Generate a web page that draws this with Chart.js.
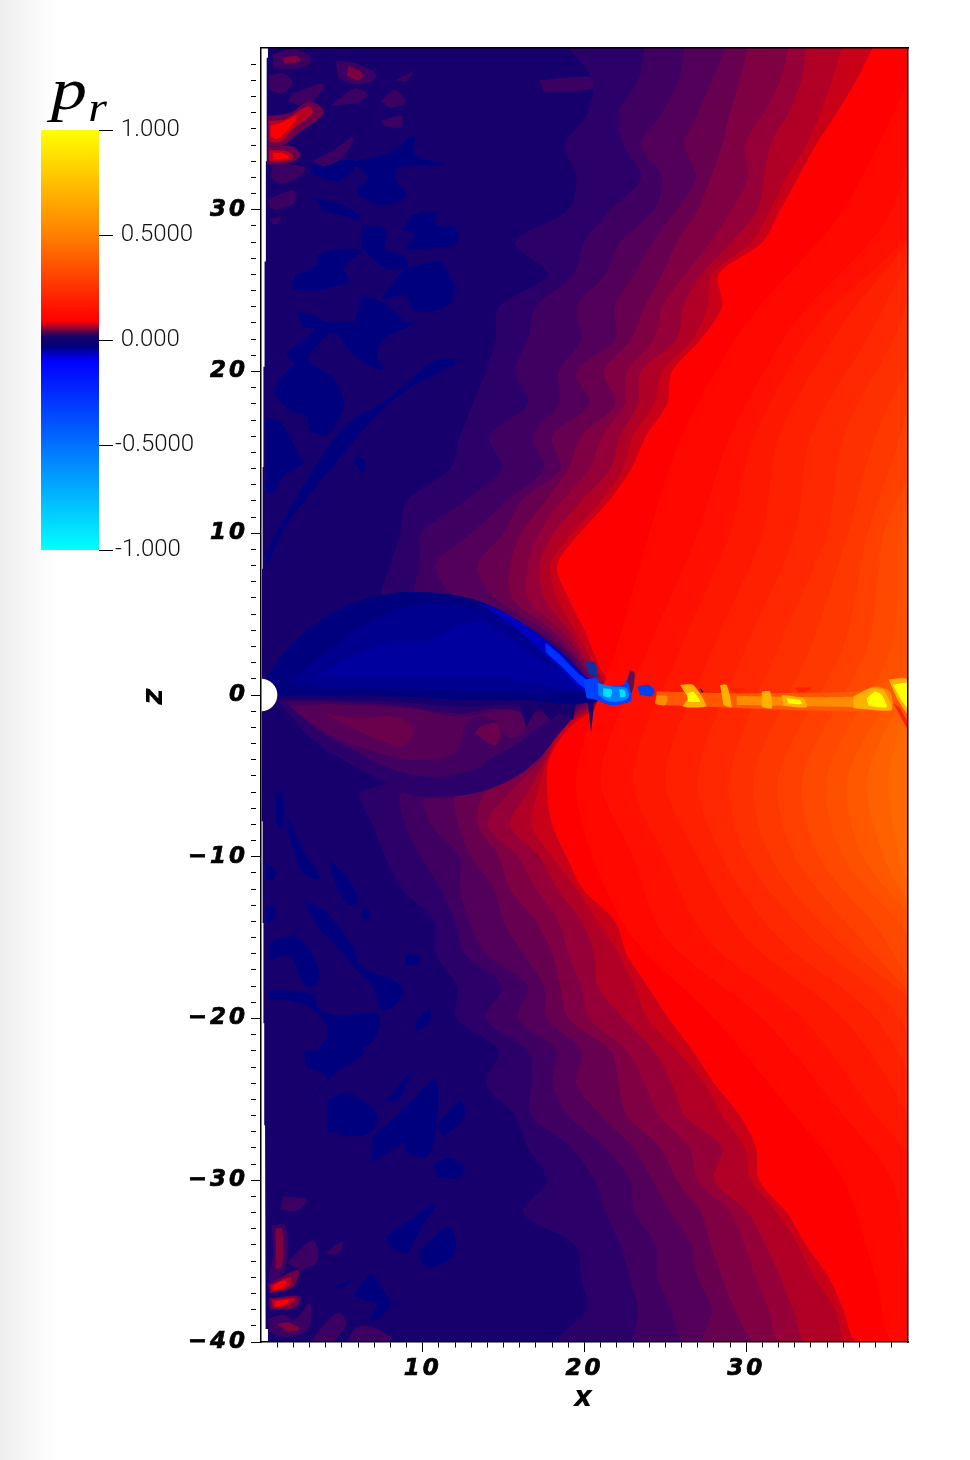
<!DOCTYPE html>
<html>
<head>
<meta charset="utf-8">
<title>p_r</title>
<script src="https://cdn.jsdelivr.net/npm/chart.js@4/dist/chart.umd.min.js"></script>
<style>
  html, body { margin: 0; padding: 0; }
  body { width: 970px; height: 1460px; position: relative; overflow: hidden;
         background: linear-gradient(to right, #eeeeee 0, #f6f6f6 25px, #ffffff 60px); }
  canvas { position: absolute; left: 0; top: 0; }
  #colorBar { top: 100px; }
  #barTitle { position: absolute; left: 51px; top: 59px; color: #000; line-height: 1;
              font-family: "Liberation Serif", serif; font-style: italic; font-size: 60px;
              transform: scaleX(1.2); transform-origin: left top; }
  #barTitle span { font-size: 40px; position: relative; top: 12px; left: 1px; }
</style>
</head>
<body>
<canvas id="mainChart" width="970" height="1460"></canvas>
<canvas id="colorBar" width="220" height="480"></canvas>
<div id="barTitle">p<span>r</span></div>
<script>
// z rows shared by the contour lines, x for each row
const zRows = [40,38,36,34,32,30,28,26,24,22,20,18,16,14,12,10,8,6,4,2,0,-2,-4,-6,-8,-10,-12,-14,-16,-18,-20,-22,-24,-26,-28,-30,-32,-34,-36,-38,-40];
const contour1 = [19,20.5,20.2,18.8,19.5,19,15.7,17.7,14.7,14.5,13.9,13.1,12.3,11.7,9,8.6,8,7.6,15.5,19,20,16,15,6.2,6.9,7.7,8.7,10.7,10.8,12.1,12.1,14.7,13.9,15.7,16.5,17.7,16.2,19.4,19.8,20.1,18.5];
const contour2 = [23.7,23.3,22.1,22.4,23.5,21.6,20,19.3,17,16.5,15.7,16.5,14.1,14.9,12.6,9.9,9.8,9.6,16.5,19.2,20.2,16.5,15.5,8.7,8.9,9.9,11.1,12,12.6,14.9,13.9,16.5,16.7,16.7,19.2,20.6,21.3,22.2,22.8,23.3,23.3];
const contour3 = [26.2,25.8,24.8,23.5,24.8,24.3,22.2,21.3,19.5,19.8,18.4,18.4,16.8,17.5,15.2,13,10.8,12.1,17,19.4,20.4,17,16,10.2,10.5,12.3,12.3,12.9,13.9,16.5,15.9,18.3,18,19,21.3,22.8,23.1,24.4,24.5,25.4,26.2];
const contour4 = [28.7,27.9,27,26.2,26.9,25.7,24.2,23.1,21.9,21.9,19.5,20.3,18,18.5,16.1,15,13.4,14.5,17.5,19.6,20.6,17.5,16.5,12.1,12.2,13,14.4,15,16.2,17.5,17.7,19.8,19.5,21,23,24.2,25.3,26.6,27,27.9,27.5];
const contour5 = [30.1,29.6,29,28.5,27.8,27,25.7,24.8,23.7,22.9,21.2,21.9,19.8,19,17.6,16.1,15.4,15.5,18,19.8,20.8,18,17,13.9,13.4,14.7,15.4,17,18,18.5,19,21.6,22.1,22.6,24.7,25.7,27.2,27.8,28.5,29.3,30.6];
const contour6 = [32.6,32.1,31.1,29.9,30.1,29.1,27.8,26.2,24.8,24.3,22.6,22.5,21.1,20.3,18.6,17.2,16.5,16.5,18.5,20,21,18.3,17.3,15.4,14,15.9,17,18.4,19,19.8,20.3,22.6,23.7,24.6,26.5,27,29,29.9,30.6,31.4,32.1];
const contour7 = [33.7,33.4,32.6,31.5,31.1,30.7,29.1,27.2,26.1,25.7,23.5,23.3,22.2,21.6,19.8,18.1,17.2,17.5,19,20.2,21.2,18.6,17.6,16.5,15.4,17.2,18.3,19.8,20.6,20.8,22.4,24.3,25.4,26.2,28.5,28,30.1,31.2,32.1,32.9,33.7];
const contour8 = [35.9,35.3,34.6,33.7,32.5,31.5,30.3,27.9,27.6,26.7,24.8,24.3,23,22.4,21,19.2,17.9,18.3,19.4,20.5,21.4,18.8,17.7,17.1,16.7,18,19.5,20.8,22.1,23.1,23.9,25.7,27.4,28.5,29.9,30.3,31.9,33.2,34.2,35.5,36.2];
const contour9 = [37.8,36.8,35.6,34.3,33.2,32.1,31,28.3,28.5,27.2,25.4,25.1,23.8,22.9,21.5,19.7,18.3,19,20,20.8,21.6,19.1,17.8,17.7,18,18.9,19.9,21.9,22.6,23.9,25.2,26.7,28,29.6,30.6,30.8,32.5,33.7,35.1,36,36.8];
const contourColors = ['#2b0068','#3f0062','#53005a','#680050','#7f0043','#960038','#b00026','#c80018','#ff0000'];

// red to orange ramp on the right side
const orangeRows = [40,30,23,16,10,3,-5,-10,-15,-20,-26,-30,-36,-40];
const orange1 = [41,36,30,26,24,22,19.5,20.5,23,28,33,36,38,39];
const orange2 = [41,39,33,29,27,24,21,23,25,31,36,39,40,41];
const orange3 = [41,41,34.5,30.5,29,26,23,25,27.5,33.5,38,41,41,41];
const orange4 = [41,41,36,32,31,28,25,27,30,36,40,41,41,41];
const orange5 = [41,41,38,34,33,30,27,28.5,32,38,41,41,41,41];
const orange6 = [41,41,39.5,36,35,32,29,30,34,39.5,41,41,41,41];
const orange7 = [41,41,41,38,36.3,34,30.5,31.5,35.5,41,41,41,41,41];
const orange8 = [41,41,41,39.5,37.5,36,32,33,37,41,41,41,41,41];
const orange9 = [41,41,41,41,38.5,37.5,33.5,34.5,38.5,41,41,41,41,41];
const orange10 = [41,41,41,41,39.5,39,35,36,40,41,41,41,41,41];
const orange11 = [41,41,41,41,40.5,40.5,36.3,37.2,41,41,41,41,41,41];
const orange12 = [41,41,41,41,41,41,37.5,38.5,41,41,41,41,41,41];
const orange13 = [41,41,41,41,41,41,38.8,39.5,41,41,41,41,41,41];
const orange14 = [41,41,41,41,41,41,40,40.5,41,41,41,41,41,41];
const orangeColors = ['#ff0800','#ff1000','#ff1800','#ff2000','#ff2800','#ff3000','#ff3800','#ff4000','#ff4800','#ff5000','#ff5800','#ff6000','#ff6800','#ff7000'];

// left edge of the data, it steps in towards the axis
const edgeZ = [40,39.4,39.4,33,33,26.8,26.8,20.3,20.3,14.1,14.1,7.8,7.8,1.5,1.5,-1.5,-1.5,-7.8,-7.8,-14.1,-14.1,-20.3,-20.3,-26.6,-26.6,-32.8,-32.8,-39.2,-39.2,-40];
const edgeX = [0.43,0.43,0.35,0.35,0.3,0.3,0.22,0.22,0.15,0.15,0.1,0.1,0.06,0.06,0,0,0.06,0.06,0.1,0.1,0.15,0.15,0.2,0.2,0.25,0.25,0.3,0.3,0.43,0.43];

// x,z pairs
const navyPatches = [
  [5.9,33,8,33.6,9.5,34.6,9.5,33.4,11.3,32.8,8.5,32.6,8.4,31.8,9,30.9,7.5,30.3,5.9,31.1,6.6,32,5.5,33],
  [9.3,29.7,10.8,29.9,10.8,29.1,12,28.9,12.1,27.9,10.3,27.6,9,27.6,9.5,28.5,8.7,28.7],
  [2.1,26,3.5,26.6,3.5,27.3,6.2,27.5,5.1,26.4,5.4,25.6,3.3,25,1.9,25.1],
  [6.2,29.1,7.7,28.8,7.7,27.6,8.9,27.1,9,26.4,7.7,26.4,6.2,27.6],
  [9,26.4,11.1,26.8,11.6,26,12,25.1,11.6,24.1,9.6,23.7,8.9,24.7,7.5,24.5,8.2,25.6],
  [6.2,24.7,7.5,24.3,8.5,23.5,8.9,22.7,5.7,22.7],
  [2.2,23.7,3.3,23.5,4.1,22.7,2.6,22.7],
  [3.1,32.8,5.9,33,4.9,31.8,3.1,32.2],
  [3.3,30.7,5.1,30.3,6.2,29.4,3.9,29.9],
  [1.5,21.1,3.3,22.6,2.8,23,9.5,23,7.7,22.1,7.2,21.1,7.5,20.1,6.4,20.5,5.9,20.9,5.4,21.3,4.5,22.4,3.3,21.4,3,20.6,4.4,19.7,5.1,18.2,4.8,17,4.1,16.1,3,16.4,2.8,17.2,1.8,17.6,0.8,18.9,2.1,20.5],
  [0.3,17.2,1.3,16.8,2.3,14.9,2.6,14.3,1.3,13.5,0.8,12.5,0.3,12.5],
  [5.8,14.8,6.4,14.5,6.3,13.7,5.8,14.3],
  [0.26,8.75,2.57,12.87,5.14,16.58,7.7,18.2,10.8,20.7,12.1,20.6,9,18.85,6.9,17,4.1,13.7,1.5,10.4,0.4,7.9],
  [0.9,-6,1.3,-6.1,1.3,-8.35,0.9,-7.9],
  [1.5,-7.1,2.8,-10,3.3,-10.6,3.6,-11.4,2.6,-11,1.8,-9],
  [4.2,-10.2,4.9,-10.8,5.9,-12.3,5.9,-12.9,5.3,-12.9,4.4,-11.2],
  [6.2,-13.2,6.7,-13.3,6.7,-13.9,6.2,-13.8],
  [9,-16,9.8,-16.2,9.6,-16.7,8.9,-16.7],
  [0.3,-10.4,0.9,-10.8,0.8,-11.4,0.3,-11.4],
  [0.3,-13,0.8,-13,0.8,-13.9,0.3,-14.1],
  [2.6,-12.7,3.9,-13.3,5.7,-15.6,6.2,-16.8,8.5,-17.8,8.7,-18.7,7.5,-19.5,6.9,-18,5.9,-17,4.9,-15.8,3.6,-14.5],
  [0.5,-15.2,2.3,-15,3.6,-17,3.3,-18,2.6,-17.8,1.8,-16.2,0.5,-16.4],
  [0.5,-18.2,3.3,-18.5,3.5,-19.3,4.6,-19.8,7.2,-19.7,7.3,-20.7,6.4,-21.8,3.3,-22.4,4.1,-20.9,3.3,-19.5,1.8,-18.9,0.5,-18.9],
  [9.5,-20.3,10.4,-19.4,10.4,-20.3,9.6,-20.8],
  [2.6,-22,6.4,-22,4.4,-23.6,2.3,-25.8,4.1,-23.7,2.8,-23],
  [4.1,-25,5.4,-24.6,7.2,-25.9,6.9,-26.9,5.9,-27.3,4.1,-27],
  [9,-23.5,9.3,-23.3,8.5,-25,7.7,-25.1],
  [8.9,-25.5,10.8,-23.8,10.8,-26.9,10.3,-28.5,9,-28.3,8.9,-27.7,6.9,-28.8,6.9,-27.3],
  [10.8,-26.7,12.3,-25.1,12.6,-26.1,11.3,-27.3],
  [10.7,-29,11.7,-28.6,12.6,-29.2,12.2,-29.9,10.8,-29.8],
  [7.7,-33.5,10.8,-31.4,9.8,-33.1,9,-34.5,8,-34.1],
  [9.8,-34.3,11.6,-32.9,12,-34.5,10.5,-35.4,9.8,-35],
  [5.7,-37.2,6.8,-35.8,7.3,-36.4,8,-37.8,6.8,-38.7,7.2,-37.6],
  [4.1,-36.8,5.7,-36.1,5.1,-36.6]
];
const navyColor = '#00007f';

// dim purple patches near the axis
const purplePatches = [
  [0.7,39.6,2,39.9,3,39.5,3,39,1.9,38.7,0.8,38.8],
  [4.6,39.2,5.7,39.1,7.1,38.4,6.8,37.9,5.5,37.8,4.8,38.2],
  [0.5,38.3,1.5,38.4,1.9,37.8,1.3,37.2,0.5,37.4],
  [1.9,37.2,3.9,37.8,3.3,36.8,2.4,36.5,1.7,36.7],
  [4.3,36.4,5.8,37.5,6.6,37.1,6,36.6],
  [7.4,36.7,8.3,37.4,8.9,36.6,8,36.3],
  [8.3,38,9.4,38.5,9,37.9],
  [3.2,33,4.5,33.7,5.7,34.5,5.1,33.3,4,32.7,3.3,32.9],
  [0.7,32.9,2.7,32.6,2.3,32,1.2,31.6,0.6,32],
  [0.4,30.6,2,31.2,2.1,30.5,1,30,0.5,30.2],
  [0.6,29.4,1.2,29.6,1.1,29.2,0.7,29.1],
  [7.4,35.5,8.7,35.8,8.6,35.1,7.6,35.2],
  [17.2,38,20.3,38.2,20.5,37.5,17.5,37.3],
  [0.66,-32.8,1.5,-32.8,1.5,-35.55,0.55,-36.3,0.76,-34.5],
  [0.45,-38.6,1.4,-38.3,2.1,-38.6,3,-37.6,3.1,-38.4,2.8,-39.3,1.6,-39.7,0.55,-39.4],
  [3,-40,4.7,-38.2,5.3,-38.8,4.5,-40],
  [5.3,-40,5.9,-39.1,6.95,-39.1,8,-39.7,8,-40],
  [1.6,-35.1,3.2,-33.7,3.5,-35,2.4,-35.6],
  [4,-34.5,5,-33.8,4.9,-34.4,4.3,-34.6],
  [1.4,-31,2.8,-31.2,2.2,-31.9,1.2,-31.8]
];
const purpleColor = '#3c0062';
const wineShapes = [
  [1.3,39.4,2.2,39.5,2.4,39.2,1.5,39],
  [5.4,38.9,6.3,38.4,6,38,5.3,38.3],
  [0.9,-33,1.3,-33,1.3,-35.3,0.9,-35.5],
  [1,-38.9,1.7,-38.8,2.4,-39.2,1.7,-39.4]
];
const wineColor = '#80003e';

// hot spots: outer, middle and inner rings
const spotOuter = [
  [0.4,35.8,1.8,36,3,36.7,3.9,36,2.4,34.8,1.4,34,0.4,33.9],
  [0.4,33.9,2,33.9,2.4,33.3,1.8,32.9,0.4,32.8],
  [0.45,-36.4,2.3,-35.55,2,-36.6,0.55,-37],
  [0.5,-37.3,2.4,-37.2,2.1,-37.9,0.55,-38]
];
const spotMiddle = [
  [0.5,35.5,1.5,35.6,2.9,36.4,3.2,36,2,35,1.2,34.2,0.5,34.2],
  [0.5,33.7,1.7,33.6,2,33.2,1.2,33,0.5,33],
  [0.55,-36.5,1.8,-36,1.7,-36.6,0.66,-36.9],
  [0.66,-37.4,2.1,-37.3,1.8,-37.7,0.76,-37.9]
];
const spotInner = [
  [0.6,35.2,1.3,35.4,2.2,35.8,1.7,35,1,34.4,0.6,34.5],
  [0.7,33.5,1.4,33.5,1.7,33.2,0.8,33.1],
  [0.76,-36.5,1.5,-36.2,1.5,-36.5,0.8,-36.8],
  [0.87,-37.5,1.7,-37.4,1.6,-37.65,0.87,-37.8]
];

// lobe under the equator
const lowerLobe1 = [1,-0.31,3,-2.58,5.1,-4.02,7.8,-5.47,9.8,-6.29,13.1,-6.09,15.4,-5.26,17.1,-4.02,18.1,-2.79,19.3,-1.14,18.5,-0.52,16.4,-0.52,12.3,-0.73,8.2,-0.42,4.1,-0.31];
const lowerLobe2 = [1.6,-0.42,3.2,-1.96,5.7,-3.4,8.2,-4.64,10.7,-5.06,13.1,-4.64,14.4,-3.82,15.6,-3.2,16.4,-2.58,17.5,-1.76,18.5,-1.14,16.4,-1.03,14.4,-0.83,12.3,-1.14,8.2,-0.62,4.1,-0.42];
const lowerLobe3 = [1.8,-0.73,4.1,-2.37,6.7,-3.41,9.6,-4.02,11.9,-3.61,12.7,-1.76,13.3,-1.34,14.4,-1.55,15.2,-2.58,15.8,-2.58,16.4,-1.76,15.6,-0.94,12.3,-1.34,9.2,-0.83,4.1,-0.56];
const lowerLobe4a = [3.9,-1.14,6.3,-2.37,8.6,-3.14,9.4,-2.48,9.2,-1.76,8.2,-1.34,6.1,-1.45];
const lowerLobe4b = [13.2,-2.37,14.4,-3.1,14.8,-2.58,14.6,-1.76,13.5,-1.96];
const lowerSpikes = [15.8,-0.1,16.4,-1.96,17.1,-0.73,17.9,-1.55,18.5,-1.14,19.3,-1.55,19.5,-0.31,20.2,-0.5,20.4,-2.3,20.6,-0.5,21,-0.2];

// lobe above the equator
const upperLobe1 = [0.35,1.13,1.38,2.57,2.83,4.02,4.48,5.15,6.54,5.98,8.8,6.35,11.3,6.29,13.34,5.87,15,5.15,16.44,4.22,17.9,3.19,19.1,2.16,20.04,1.13,20.9,0.3,21,-0.2,19.3,-0.6,16.4,-0.3,12.3,-0.3,8.2,-0.1,4.1,-0.05,1.1,-0.05];
const upperLobe2 = [1.69,0.72,3.65,2.37,5.92,4.02,8.19,5.25,10.66,5.67,13.14,5.36,14.8,4.74,16.43,3.6,18.08,2.26,19.53,0.92,20.56,0.1,14.37,0.2,8.19,0.41,4.06,0.41];
const upperLobe3 = [3.45,1.13,5.51,2.37,7.78,3.19,10.66,3.4,12.31,4.43,13.96,4.43,15.61,3.4,17.05,2.37,18.5,1.54,19.73,0.72,19.53,0.3,14.37,1.13,12.31,1.13,8.19,1.13];
const lobeRim = [13.3,5.75,14.6,5.3,16,4.55,17.05,3.81,18.5,2.68,19.73,1.44,20.97,0.51,20.97,-0.15,19.73,0.41,18.5,1.65,17.05,2.99,16,3.95,14.6,4.95];
const lobeRimBright = [17.6,3.25,18.5,2.48,19.73,1.23,20.97,0.41,20.97,-0.1,19.73,0.62,18.5,1.85,17.6,2.65];

// blue knots where the lobe meets the equator
const tipNub = [20.03,2.06,20.65,1.96,20.75,1.13,20.24,1.34];
const tipSpur = [22.8,1.55,23.1,1.34,22.9,0.1,22.6,0.72];
const tipBlue = [19.93,0.93,20.75,1.03,21.06,0.62,22.4,0.62,22.6,0.93,22.9,0,22.8,-0.41,21.58,-0.62,20.75,-0.31,20.13,-0.2];
const tipLight = [20.85,0.72,21.78,0.52,22.6,0.41,22.7,-0.2,21.58,-0.41,20.85,0];
const tipCyan1 = [21.16,0.41,21.68,0.31,21.58,-0.14,21.16,-0.06];
const tipCyan2 = [22.15,0.35,22.5,0.27,22.5,-0.1,22.2,-0.14];
const knotBlue = [23.27,0.52,23.95,0.62,24.32,0.27,24.15,-0.06,23.43,0];
const knotSmall = [27.15,0.41,27.35,0.2,27.25,0.1];

// hot streak along the equator
const streakOuter = [24.46,0.21,29.41,0.1,36.63,0.21,38.69,0.82,39.93,1.13,40,-2,39.31,-0.72,36.63,-1.03,28.38,-0.76,24.46,-0.62];
const streakInner = [29.41,-0.06,36.63,-0.1,37.9,0.52,38.9,0.21,39,-0.93,36.63,-0.76,29.41,-0.62];
const streakStart = [24.46,0,25.1,-0.1,25,-0.62,24.35,-0.52];
const streakDark = [29.1,0.4,30,0.4,29.6,0.15,29.2,0.15];
const streakDark2 = [33,0.45,34,0.45,33.6,0.2,33.2,0.2];
const streakTail = [39.1,-0.5,39.5,-0.8,40,-1.7,40,-2.2];
const amberBlobs = [
  [25.91,0.62,26.73,0.62,27.52,-0.68,26.11,-0.72,26.42,-0.2],
  [28.38,0.62,28.79,0.62,29.1,-0.76,28.59,-0.62],
  [30.96,0.21,31.47,0.21,31.58,-0.82,30.96,-0.72],
  [32.2,0,33.54,-0.2,33.74,-0.76,32.3,-0.68],
  [36.63,-0.1,37.66,0.41,38.49,0.31,39,-0.93,36.63,-0.82],
  [38.8,0.97,39.97,0.97,39.97,-1.13,39.31,-0.2]
];
const yellowBlobs = [
  [26.32,0.1,26.73,0.2,27.15,-0.41,26.42,-0.41],
  [32.5,-0.2,33.33,-0.31,33.43,-0.56,32.6,-0.52],
  [37.45,-0.2,37.97,0.21,38.38,0,38.69,-0.76,37.56,-0.68],
  [39.06,0.62,39.97,0.72,39.97,-0.76,39.51,-0.2]
];

const xLabelled = [10, 20, 30];
const zLabelled = [-40, -30, -20, -10, 0, 10, 20, 30];

// colour bar
const barStops = [1, 0.5, 0.09, 0.02, -0.03, -0.1, -1];
const barColors = ['#ffff00', '#ff8000', '#ff0000', '#1a0068', '#00007f', '#0000ff', '#00ffff'];
const barTicks = [1, 0.5, 0, -0.5, -1];
const barTickLabels = ['1.000', '0.5000', '0.000', '-0.5000', '-1.000'];

function shape(flat, color, tension) {
  var points = [];
  for (var i = 0; i < flat.length; i += 2) {
    points.push({x: flat[i], y: flat[i + 1]});
  }
  return {data: points, backgroundColor: color, fill: 'shape', showLine: true,
          borderWidth: 0, pointRadius: 0, pointHoverRadius: 0,
          tension: tension === undefined ? 0.35 : tension};
}

function bandShape(rows, xs, color) {
  var flat = [];
  for (var i = 0; i < rows.length; i++) {
    flat.push(xs[i], rows[i]);
  }
  flat.push(42, rows[rows.length - 1] - 3, 42, rows[0] + 3);
  return shape(flat, color, 0.3);
}

var layers = [];

// base
var baseFlat = [];
for (var i = 0; i < edgeZ.length; i++) baseFlat.push(edgeX[i], edgeZ[i]);
baseFlat.push(41, -40, 41, 40);
layers.push(shape(baseFlat, '#18006c', 0));

navyPatches.forEach(function (p) { layers.push(shape(p, navyColor)); });
purplePatches.forEach(function (p) { layers.push(shape(p, purpleColor)); });
wineShapes.forEach(function (p) { layers.push(shape(p, wineColor)); });

[contour1, contour2, contour3, contour4, contour5, contour6, contour7, contour8, contour9].forEach(function (c, i) {
  layers.push(bandShape(zRows, c, contourColors[i]));
});

[orange1, orange2, orange3, orange4, orange5, orange6, orange7, orange8, orange9, orange10, orange11, orange12, orange13, orange14].forEach(function (c, i) {
  layers.push(bandShape(orangeRows, c, orangeColors[i]));
});

spotOuter.forEach(function (p) { layers.push(shape(p, '#6a004c')); });
spotMiddle.forEach(function (p) { layers.push(shape(p, '#b80020')); });
spotInner.forEach(function (p) { layers.push(shape(p, '#ff0000')); });

layers.push(shape(lowerLobe1, '#2b0068'));
layers.push(shape(lowerLobe2, '#420060'));
layers.push(shape(lowerLobe3, '#570058'));
layers.push(shape(lowerLobe4a, '#6b004c'));
layers.push(shape(lowerLobe4b, '#6b004c'));
layers.push(shape(lowerSpikes, '#18006c', 0));

layers.push(shape(upperLobe1, '#00007f', 0.2));
layers.push(shape(upperLobe2, '#00008e', 0.2));
layers.push(shape(upperLobe3, '#00009e', 0.2));
layers.push(shape(lobeRim, '#0000c0', 0.2));
layers.push(shape(lobeRimBright, '#0030ff', 0.2));

layers.push(shape(tipNub, '#1030a0'));
layers.push(shape(tipSpur, '#60104f'));
layers.push(shape(tipBlue, '#0040ff'));
layers.push(shape(tipLight, '#0080ff'));
layers.push(shape(tipCyan1, '#00e0ff'));
layers.push(shape(tipCyan2, '#00e0ff'));
layers.push(shape(knotBlue, '#0040f0'));
layers.push(shape(knotSmall, '#00007f'));

layers.push(shape(streakOuter, '#ff5800', 0.2));
layers.push(shape(streakInner, '#ff8c00', 0.2));
layers.push(shape(streakStart, '#ff8c00'));
layers.push(shape(streakDark, '#ff2000'));
layers.push(shape(streakDark2, '#ff2000'));
layers.push(shape(streakTail, '#ff2000', 0));
amberBlobs.forEach(function (p) { layers.push(shape(p, '#ffb000', 0.2)); });
yellowBlobs.forEach(function (p) { layers.push(shape(p, '#ffff00', 0.2)); });

// the hole around the origin
layers.push({data: [{x: 0, y: 0}], backgroundColor: '#ffffff', borderWidth: 0,
             pointRadius: 16.3, pointHoverRadius: 16.3, showLine: false});

// first dataset is drawn on top, so turn the painter's order round
layers.reverse();

var axisFont = {family: '"DejaVu Sans"', size: 23, weight: 'bold', style: 'italic'};
var titleFont = {family: '"DejaVu Sans"', size: 28, weight: 'bold', style: 'italic'};

// the axis numbers in the picture sit wider apart than the font does
var wideLabels = {
    id: 'wideLabels',
    beforeDraw: function (c) { c.ctx.letterSpacing = '3px'; }
};

var ctx = document.getElementById('mainChart').getContext('2d');
var chart = new Chart(ctx, {
    type: 'scatter',
    data: { datasets: layers },
    plugins: [wideLabels],
    options: {
        responsive: false,
        animation: false,
        events: [],
        layout: { padding: { left: 0, top: 48, right: 62, bottom: 0 } },
        plugins: { legend: { display: false }, tooltip: { enabled: false } },
        scales: {
            x: {
                type: 'linear', position: 'bottom', min: 0, max: 40,
                afterFit: function (s) { s.height = 118; },
                grid: {
                    drawOnChartArea: false, tickLength: 10,
                    tickColor: function (c) { return (c.tick && (c.tick.value === 0 || c.tick.value === 40)) ? 'transparent' : '#000'; },
                    tickBorderDash: function (c) { return (c.tick && c.tick.value % 10 === 0) ? [] : [5, 50]; }
                },
                border: { display: true, color: '#000', width: 1.5, z: 1 },
                ticks: {
                    stepSize: 1, autoSkip: false, maxRotation: 0, minRotation: 0, color: '#000', font: axisFont, padding: 3, z: 1,
                    textStrokeColor: '#000', textStrokeWidth: 0.7,
                    callback: function (v) { return xLabelled.indexOf(v) >= 0 ? String(v) : ''; }
                },
                title: { display: true, text: 'x', color: '#000', font: titleFont, padding: {top: 0, bottom: 44} }
            },
            y: {
                type: 'linear', position: 'left', min: -40, max: 40,
                afterFit: function (s) { s.width = 261; },
                grid: {
                    drawOnChartArea: false, tickLength: 10,
                    tickColor: function (c) { return (c.tick && c.tick.value === 40) ? 'transparent' : '#000'; },
                    tickBorderDash: function (c) { return (c.tick && c.tick.value % 10 === 0) ? [] : [5, 50]; }
                },
                border: { display: true, color: '#000', width: 1.5, z: 1 },
                ticks: {
                    stepSize: 1, autoSkip: false, color: '#000', font: axisFont, padding: 3, z: 1,
                    textStrokeColor: '#000', textStrokeWidth: 0.7,
                    callback: function (v) {
                        if (zLabelled.indexOf(v) < 0) return '';
                        return v < 0 ? '\u2212' + Math.abs(v) : String(v);
                    }
                },
                title: { display: true, text: 'z', color: '#000', font: titleFont, padding: {top: 138, bottom: 0} }
            },
            top: {
                type: 'linear', position: 'top', min: 0, max: 40,
                afterFit: function (s) { s.height = 0; },
                grid: { drawOnChartArea: false, drawTicks: false },
                border: { display: true, color: '#000', width: 1.5, z: 1 },
                ticks: { display: false }
            },
            right: {
                type: 'linear', position: 'right', min: -40, max: 40,
                afterFit: function (s) { s.width = 0; },
                grid: { drawOnChartArea: false, drawTicks: false },
                border: { display: true, color: '#000', width: 1.5, z: 1 },
                ticks: { display: false }
            }
        }
    }
});

var barChart = new Chart(document.getElementById('colorBar').getContext('2d'), {
    type: 'bar',
    data: {
        labels: ['p_r'],
        datasets: [{
            data: [[-1, 1]],
            barPercentage: 1,
            categoryPercentage: 1,
            borderWidth: 0,
            backgroundColor: function (c) {
                var area = c.chart.chartArea;
                if (!area) return '#ff0000';
                var scale = c.chart.scales.y;
                var g = c.chart.ctx.createLinearGradient(0, area.top, 0, area.bottom);
                barStops.forEach(function (v, i) {
                    g.addColorStop((scale.getPixelForValue(v) - area.top) / (area.bottom - area.top), barColors[i]);
                });
                return g;
            }
        }]
    },
    options: {
        responsive: false,
        animation: false,
        events: [],
        layout: { padding: { left: 41, top: 30, right: 0, bottom: 30 } },
        plugins: { legend: { display: false }, tooltip: { enabled: false } },
        scales: {
            x: { display: false },
            y: {
                position: 'right', min: -1, max: 1,
                afterFit: function (s) { s.width = 121; },
                afterBuildTicks: function (s) { s.ticks = barTicks.map(function (v) { return {value: v}; }); },
                grid: { drawOnChartArea: false, tickLength: 14, tickColor: '#000' },
                border: { display: false },
                ticks: {
                    autoSkip: false, color: '#111', padding: 2,
                    font: { family: 'Roboto', size: 24, weight: '300' },
                    callback: function (v) {
                        var label = barTickLabels[barTicks.indexOf(v)];
                        return v >= 0 ? ' ' + label : label;
                    }
                }
            }
        }
    }
});
</script>
</body>
</html>
